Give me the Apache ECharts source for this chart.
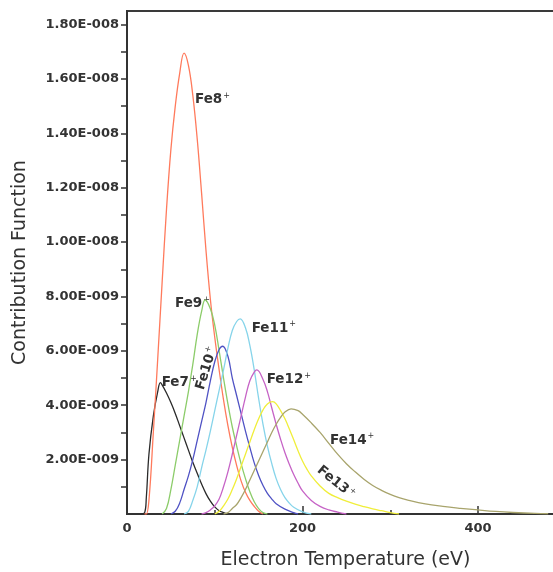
<!DOCTYPE html>
<html>
<head>
<meta charset="utf-8">
<script src="https://cdn.jsdelivr.net/npm/echarts@6/dist/echarts.min.js"></script>
<style>
html,body{margin:0;padding:0;background:#fff;}
#chart{width:553px;height:572px;}
</style>
</head>
<body>
<div id="chart"></div>
<script>
// Values are in units of 1E-009 (multiplied by SCALE when plotted)
const SCALE = 1e-9;
const seriesNames = ['Fe7+', 'Fe8+', 'Fe9+', 'Fe10+', 'Fe11+', 'Fe12+', 'Fe13+', 'Fe14+'];

const fe7T = [15,20,22,25,30,35,38,40,45,50,55,60,65,70,75,80,85,90,95,100,105,110,115];
const fe7V = [0,0.05,0.6,2.2,3.6,4.5,4.83,4.75,4.45,4.1,3.7,3.25,2.8,2.35,1.9,1.5,1.1,0.75,0.47,0.26,0.12,0.05,0];

const fe8T = [20,22,25,30,35,40,45,50,55,60,65,70,75,80,85,90,95,100,105,110,115,120,125,130,135,140,145,150,155];
const fe8V = [0,0,0.5,3.0,5.7,8.5,11.2,13.4,15.0,16.2,16.95,16.5,15.4,13.8,11.8,9.7,7.9,6.5,5.3,4.2,3.25,2.45,1.78,1.22,0.8,0.5,0.28,0.1,0];

const fe9T = [40,45,50,55,60,65,70,75,80,85,89,95,100,105,110,115,120,125,130,135,140,145,150,155,160];
const fe9V = [0,0.2,0.9,1.8,2.7,3.6,4.5,5.5,6.6,7.45,7.87,7.55,6.95,6.0,5.0,4.05,3.2,2.5,1.85,1.3,0.82,0.45,0.2,0.05,0];

const fe10T = [50,55,60,65,70,75,80,85,90,95,100,105,109,115,120,125,130,135,140,145,150,155,160,165,170,180,190,195];
const fe10V = [0,0.1,0.4,0.9,1.4,2.0,2.7,3.4,4.1,4.9,5.6,6.05,6.17,5.8,5.0,4.35,3.7,3.05,2.45,1.88,1.42,1.05,0.76,0.55,0.38,0.18,0.05,0];

const fe11T = [65,70,75,80,85,90,95,100,105,110,115,120,125,129,135,140,145,150,155,160,165,170,175,180,185,190,200,210];
const fe11V = [0,0.1,0.5,1.0,1.7,2.35,3.05,3.8,4.55,5.3,6.1,6.75,7.08,7.18,6.85,6.2,5.3,4.25,3.3,2.5,1.85,1.3,0.9,0.6,0.4,0.25,0.08,0];

const fe12T = [85,90,95,100,105,110,115,120,125,130,135,140,145,148,155,160,165,170,175,180,185,190,195,200,210,220,230,240,250];
const fe12V = [0,0.05,0.15,0.3,0.55,1.0,1.55,2.2,2.9,3.6,4.3,4.9,5.22,5.3,4.95,4.5,3.9,3.3,2.75,2.25,1.83,1.45,1.13,0.85,0.5,0.28,0.15,0.07,0];

const fe13T = [100,105,110,115,120,125,130,135,140,145,150,155,160,166,170,175,180,185,190,195,200,205,210,220,230,240,250,260,270,280,290,300,310];
const fe13V = [0,0.1,0.3,0.55,0.9,1.3,1.75,2.2,2.65,3.1,3.5,3.83,4.05,4.13,4.05,3.8,3.5,3.13,2.73,2.32,1.95,1.65,1.4,1.03,0.76,0.6,0.47,0.36,0.27,0.19,0.12,0.05,0];

const fe14T = [110,115,120,125,130,135,140,145,150,155,160,165,170,175,180,187,195,200,210,220,230,240,250,260,270,280,290,300,310,320,340,360,380,400,420,440,465,480];
const fe14V = [0,0.05,0.2,0.35,0.6,0.9,1.25,1.6,1.95,2.3,2.65,3.0,3.3,3.55,3.75,3.87,3.8,3.67,3.35,3.0,2.6,2.2,1.85,1.55,1.28,1.05,0.87,0.72,0.6,0.51,0.37,0.28,0.21,0.15,0.095,0.055,0.02,0.01];

const xTickLabels = [0, 200, 400, 600];
const yTickLabelUnits = [2,4,6,8,10,12,14,16,18];
const yTickUnits = [1,2,3,4,5,6,7,8,9,10,11,12,13,14,15,16,17,18];

const allT = [fe7T, fe8T, fe9T, fe10T, fe11T, fe12T, fe13T, fe14T];
const allV = [fe7V, fe8V, fe9V, fe10V, fe11V, fe12V, fe13V, fe14V];
const colors = ['#2a2a2a', '#ff7a5c', '#8ccc6a', '#4f52c4', '#86d4ea', '#c663c6', '#f0ee3a', '#a8a46c'];

const FONT = "'DejaVu Sans', Verdana, sans-serif";

function fmtE(v) {
  if (v === 0) return '';
  const s = v.toExponential(2);
  const parts = s.split('e');
  const n = parseInt(parts[1], 10);
  return parts[0] + 'E' + (n < 0 ? '-' : '+') + String(Math.abs(n)).padStart(3, '0');
}

const chart = echarts.init(document.getElementById('chart'), null, {renderer: 'canvas'});

const series = allT.map((t, i) => ({
  name: seriesNames[i],
  type: 'line',
  data: t.map((x, k) => [x, allV[i][k] * SCALE]),
  showSymbol: false,
  smooth: 0.4,
  lineStyle: {color: colors[i], width: 1.3},
  itemStyle: {color: colors[i]},
  silent: true,
  animation: false
}));

chart.setOption({
  animation: false,
  backgroundColor: '#fff',
  grid: {
    left: 127, right: -100.5, top: 11, bottom: 58,
    containLabel: false, outerBoundsMode: 'none',
    show: true, borderColor: '#3a3a3a', borderWidth: 2, backgroundColor: 'transparent'
  },
  xAxis: {
    type: 'value', min: 0, max: 600, interval: 200,
    axisLine: {show: true, lineStyle: {color: '#333', width: 2}},
    axisTick: {show: true, inside: true, length: 8, lineStyle: {color: '#333', width: 1.5}},
    minorTick: {show: true, splitNumber: 2, length: 4, lineStyle: {color: '#333', width: 1.5}},
    splitLine: {show: false},
    axisLabel: {
      customValues: xTickLabels,
      margin: 8, fontSize: 13, fontWeight: 'bold', fontFamily: FONT, color: '#333'
    }
  },
  yAxis: {
    type: 'value', min: 0, max: 18.5 * SCALE,
    axisLine: {show: true, lineStyle: {color: '#333', width: 2}},
    axisTick: {show: true, inside: false, length: 6, customValues: yTickUnits.map(u => u * SCALE), lineStyle: {color: '#333', width: 1.5}},
    splitLine: {show: false},
    axisLabel: {
      customValues: yTickLabelUnits.map(u => u * SCALE),
      formatter: fmtE,
      margin: 8, fontSize: 13, fontWeight: 'bold', fontFamily: FONT, color: '#333'
    },
    name: 'Contribution Function',
    nameLocation: 'middle',
    nameGap: 97,
    nameTextStyle: {fontSize: 19, fontFamily: FONT, color: '#333'}
  },
  series: series
});

// Curve annotations, anchored in data coordinates (eV, units of 1E-009)
const annotations = [
  {main: 'Fe7',  x: 39.5,  y: 4.83,  rot: 0,   anchor: 'left'},
  {main: 'Fe8',  x: 77.5,  y: 15.24, rot: 0,   anchor: 'left'},
  {main: 'Fe9',  x: 54.7,  y: 7.73,  rot: 0,   anchor: 'left'},
  {main: 'Fe10', x: 90.8,  y: 5.36,  rot: 73,  anchor: 'center'},
  {main: 'Fe11', x: 142.1, y: 6.83,  rot: 0,   anchor: 'left'},
  {main: 'Fe12', x: 159.2, y: 4.93,  rot: 0,   anchor: 'left'},
  {main: 'Fe13', x: 238,   y: 1.16,  rot: -39, anchor: 'center'},
  {main: 'Fe14', x: 231.3, y: 2.72,  rot: 0,   anchor: 'left'}
];

const graphics = annotations.map(a => {
  const p = chart.convertToPixel({gridIndex: 0}, [a.x, a.y * SCALE]);
  return {
    type: 'text',
    x: p[0], y: p[1],
    rotation: a.rot * Math.PI / 180,
    silent: true,
    style: {
      text: '{b|' + a.main + '}{s|+}',
      align: a.anchor,
      verticalAlign: 'middle',
      fill: '#333',
      rich: {
        b: {fontSize: 13.5, fontWeight: 'bold', fontFamily: FONT, fill: '#333', color: '#333'},
        s: {fontSize: 8, fontFamily: FONT, fill: '#333', color: '#333', verticalAlign: 'top', padding: [0, 0, 8, 1]}
      }
    }
  };
});

graphics.push({
  type: 'text',
  x: 345.5, y: 560,
  silent: true,
  style: {
    text: 'Electron Temperature (eV)',
    font: '19px ' + FONT,
    fill: '#333',
    align: 'center',
    verticalAlign: 'middle'
  }
});

chart.setOption({graphic: graphics});
</script>
</body>
</html>
